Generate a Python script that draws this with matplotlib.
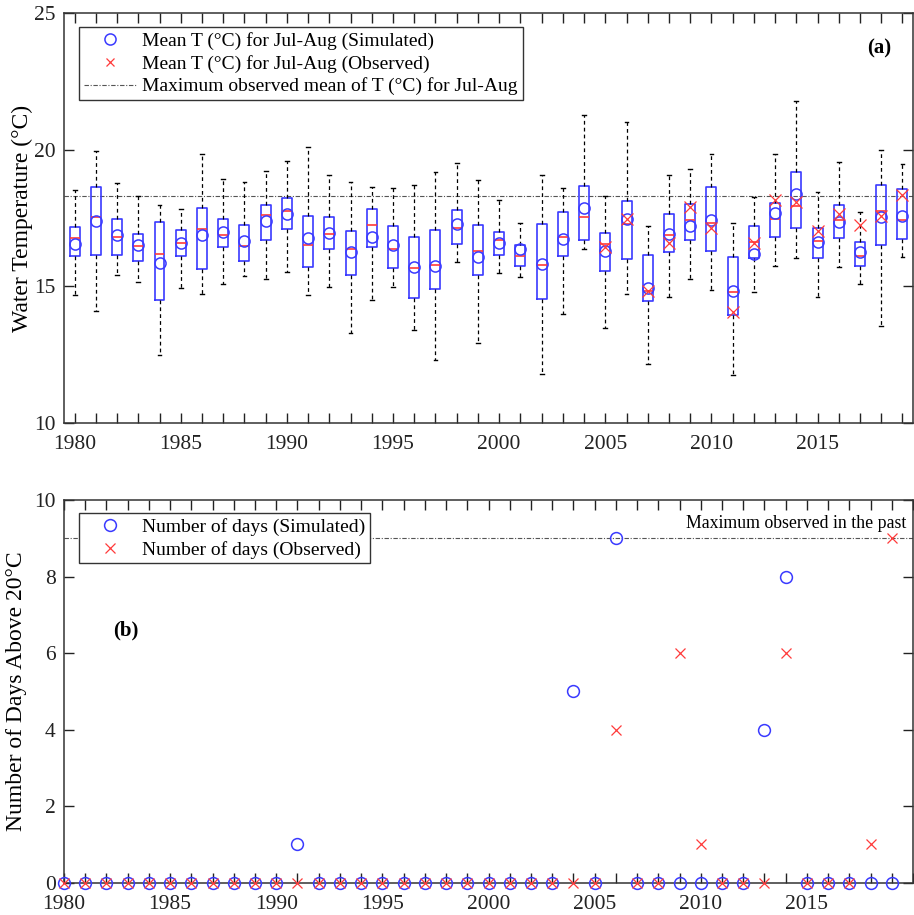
import matplotlib
matplotlib.use("Agg")
import matplotlib.pyplot as plt
from matplotlib.lines import Line2D

plt.rcParams['font.family'] = ['Liberation Serif', 'DejaVu Serif']

years = list(range(1980, 2020))

# box stats of simulated daily T (deg C), Jul-Aug
whis_hi = [18.54, 19.96, 18.78, 18.30, 17.98, 17.83, 19.84, 18.94, 18.82, 19.23,
           19.60, 20.10, 19.09, 18.81, 18.64, 18.61, 18.71, 19.17, 19.53, 18.91,
           18.15, 17.32, 19.09, 18.60, 21.28, 18.30, 21.00, 17.20, 19.09, 19.31,
           19.83, 17.30, 18.26, 19.85, 21.80, 18.45, 19.56, 17.71, 19.98, 19.46]
q3 = [17.17, 18.64, 17.46, 16.93, 17.36, 17.06, 17.87, 17.47, 17.24, 17.98,
      18.22, 17.58, 17.53, 17.04, 17.83, 17.20, 16.81, 17.07, 17.81, 17.26,
      16.97, 16.50, 17.29, 17.73, 18.69, 16.96, 18.13, 16.13, 17.65, 18.00,
      18.63, 16.08, 17.20, 18.05, 19.20, 17.14, 17.99, 16.63, 18.71, 18.55]
med = [16.75, 17.52, 16.81, 16.47, 16.19, 16.59, 17.08, 16.86, 16.46, 17.62,
       17.74, 16.52, 16.91, 16.37, 17.25, 16.37, 15.66, 15.77, 17.12, 16.30,
       16.70, 16.12, 15.79, 16.82, 17.52, 16.56, 17.29, 14.82, 16.87, 17.41,
       17.32, 14.78, 16.61, 17.47, 17.94, 16.65, 17.41, 16.11, 17.77, 17.41]
q1 = [16.12, 16.14, 16.16, 15.92, 14.48, 16.09, 15.63, 16.45, 15.94, 16.70,
      17.09, 15.72, 16.36, 15.43, 16.44, 15.68, 14.57, 14.89, 16.56, 15.40,
      16.14, 15.74, 14.54, 16.09, 16.70, 15.55, 15.99, 14.45, 16.25, 16.70,
      16.29, 13.95, 16.04, 16.82, 17.14, 16.02, 16.75, 15.74, 16.51, 16.74]
whis_lo = [14.67, 14.08, 15.40, 15.16, 12.48, 14.94, 14.71, 15.10, 15.36, 15.27,
           15.52, 14.68, 14.98, 13.30, 14.50, 14.98, 13.38, 12.29, 15.88, 12.91,
           15.50, 15.34, 11.80, 14.00, 16.36, 13.48, 14.71, 12.14, 14.61, 15.27,
           14.85, 11.75, 14.80, 15.74, 16.05, 14.61, 15.71, 15.09, 13.55, 16.06]
sim_mean = [16.55, 17.38, 16.86, 16.52, 15.84, 16.58, 16.89, 16.98, 16.67, 17.38,
            17.63, 16.78, 16.96, 16.24, 16.82, 16.52, 15.71, 15.74, 17.29, 16.08,
            16.58, 16.36, 15.83, 16.73, 17.87, 16.28, 17.47, 14.95, 16.92, 17.19,
            17.41, 14.84, 16.19, 17.69, 18.38, 16.61, 17.37, 16.25, 17.53, 17.58]

obs_years = list(range(2005, 2020))
obs_mean = [16.44, 17.47, 14.83, 16.58, 17.92, 17.12, 14.06, 16.59, 18.16, 18.07,
            17.04, 17.65, 17.25, 17.59, 18.35]
max_obs_mean = 18.31

# number of days above 20 deg C
days_sim = [0, 0, 0, 0, 0, 0, 0, 0, 0, 0, 0, 1, 0, 0, 0, 0, 0, 0, 0, 0,
            0, 0, 0, 0, 5, 0, 9, 0, 0, 0, 0, 0, 0, 4, 8, 0, 0, 0, 0, 0]
days_obs = [0, 0, 0, 0, 0, 0, 0, 0, 0, 0, 0, 0, 0, 0, 0, 0, 0, 0, 0, 0,
            0, 0, 0, 0, 0, 0, 4, 0, 0, 6, 1, 0, 0, 0, 6, 0, 0, 0, 1, 9]
max_obs_days = 9

BLUE = '#3a3aff'
RED = '#ff3a3a'
GREY = '#555555'
FS = 15.5
LFS = 14

fig = plt.figure(figsize=(9.14, 9.15), dpi=100)
ax1 = fig.add_axes([0.070, 0.538, 0.929, 0.4475])
ax2 = fig.add_axes([0.070, 0.0353, 0.929, 0.4183])

# ---- (a) boxplots ----
stats = []
for i in range(len(years)):
    stats.append({"whislo": whis_lo[i], "q1": q1[i], "med": med[i],
                  "q3": q3[i], "whishi": whis_hi[i], "fliers": []})
ax1.bxp(stats, positions=years, widths=0.47, capwidths=0.18, showfliers=False,
        manage_ticks=False,
        boxprops=dict(color=BLUE, linewidth=1.2),
        medianprops=dict(color=RED, linewidth=1.2),
        whiskerprops=dict(color='black', linewidth=0.9, linestyle=(0, (3, 2.5))),
        capprops=dict(color='black', linewidth=1.0))
ax1.plot(years, sim_mean, 'o', mfc='none', mec=BLUE, ms=8, mew=1.1, zorder=4)
ax1.plot(obs_years, obs_mean, 'x', color=RED, ms=8, mew=0.9, zorder=5)
ax1.axhline(max_obs_mean, color=GREY, lw=0.8, dashes=(4, 1.5, 1, 1.5), zorder=1)

ax1.set_xlim(1979.5, 2019.5)
ax1.set_ylim(10, 25)
ax1.set_yticks([10, 15, 20, 25])
ax1.set_xticks(years)
ax1.set_xticklabels([str(y) if y % 5 == 0 else '' for y in years])
ax1.set_ylabel('Water Temperature (°C)', fontsize=17)
ax1.yaxis.set_label_coords(-0.037, 0.5)
ax1.text(2017.9, 23.7, '(a)', fontsize=15, fontweight='bold', ha='center', va='center')

h1 = [Line2D([], [], ls='none', marker='o', mfc='none', mec=BLUE, ms=8, mew=1.1),
      Line2D([], [], ls='none', marker='x', color=RED, ms=6, mew=0.9),
      Line2D([], [], color=GREY, lw=0.8, dashes=(4, 1.5, 1, 1.5))]
l1 = ['Mean T (°C) for Jul-Aug (Simulated)',
      'Mean T (°C) for Jul-Aug (Observed)',
      'Maximum observed mean of T (°C) for Jul-Aug']
leg = ax1.legend(h1, l1, loc='upper left', bbox_to_anchor=(0.0177, 0.9665),
                 borderaxespad=0, fontsize=LFS, fancybox=False, framealpha=1,
                 edgecolor='#333333', handlelength=2.7, handletextpad=0.3,
                 labelspacing=0.25, borderpad=0.25)
leg.get_frame().set_linewidth(1.0)

# ---- (b) days above 20 C ----
ax2.plot(years, days_sim, 'o', mfc='none', mec=BLUE, ms=8.5, mew=1.1,
         clip_on=False, zorder=4, label='Number of days (Simulated)')
ax2.plot(years, days_obs, 'x', color=RED, ms=7, mew=0.9,
         clip_on=False, zorder=5, label='Number of days (Observed)')
ax2.axhline(max_obs_days, color=GREY, lw=0.8, dashes=(4, 1.5, 1, 1.5), zorder=1)
ax2.text(2019.7, 9.15, 'Maximum observed in the past', fontsize=12.8,
         ha='right', va='bottom')
ax2.text(1982.9, 6.6, '(b)', fontsize=15, fontweight='bold', ha='center', va='center')

ax2.set_xlim(1980, 2020)
ax2.set_ylim(0, 10)
ax2.set_yticks(range(0, 11, 2))
yrs2 = list(range(1980, 2021))
ax2.set_xticks(yrs2)
ax2.set_xticklabels([str(y) if (y % 5 == 0 and y < 2020) else '' for y in yrs2])
ax2.set_ylabel('Number of Days Above 20°C', fontsize=17)
ax2.yaxis.set_label_coords(-0.044, 0.5)
leg2 = ax2.legend(loc='upper left', bbox_to_anchor=(0.0177, 0.966),
                  borderaxespad=0, fontsize=LFS, fancybox=False, framealpha=1,
                  edgecolor='#333333', handlelength=2.7, handletextpad=0.3,
                  labelspacing=0.25, borderpad=0.25)
leg2.get_frame().set_linewidth(1.0)

for ax in (ax1, ax2):
    ax.tick_params(direction='in', top=True, right=True, labelsize=FS,
                   length=7, width=1.0, colors='#222222')
    ax.tick_params(axis='x', pad=9)
    ax.tick_params(axis='y', pad=6)
    for s in ax.spines.values():
        s.set_linewidth(1.1)
        s.set_color('#333333')

fig.savefig('out.png', dpi=100)
